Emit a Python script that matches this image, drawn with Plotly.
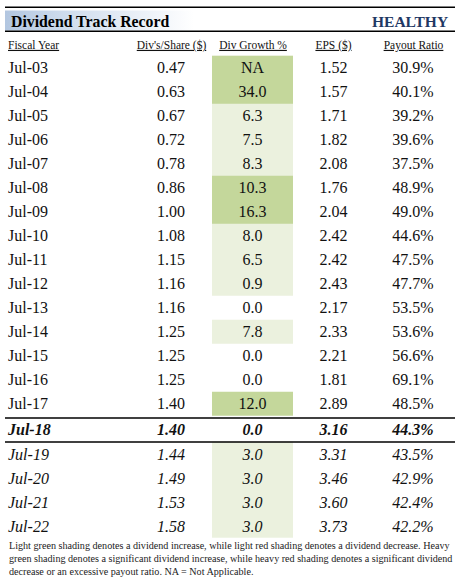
import plotly.graph_objects as go

# ---------------- data ----------------
fiscal_years = ["Jul-03", "Jul-04", "Jul-05", "Jul-06", "Jul-07", "Jul-08", "Jul-09",
                "Jul-10", "Jul-11", "Jul-12", "Jul-13", "Jul-14", "Jul-15", "Jul-16",
                "Jul-17", "Jul-18", "Jul-19", "Jul-20", "Jul-21", "Jul-22"]
div_per_share = ["0.47", "0.63", "0.67", "0.72", "0.78", "0.86", "1.00", "1.08", "1.15",
                 "1.16", "1.16", "1.25", "1.25", "1.25", "1.40", "1.40", "1.44", "1.49",
                 "1.53", "1.58"]
div_growth = ["NA", "34.0", "6.3", "7.5", "8.3", "10.3", "16.3", "8.0", "6.5", "0.9",
              "0.0", "7.8", "0.0", "0.0", "12.0", "0.0", "3.0", "3.0", "3.0", "3.0"]
eps = ["1.52", "1.57", "1.71", "1.82", "2.08", "1.76", "2.04", "2.42", "2.42", "2.43",
       "2.17", "2.33", "2.21", "1.81", "2.89", "3.16", "3.31", "3.46", "3.60", "3.73"]
payout_ratio = ["30.9%", "40.1%", "39.2%", "39.6%", "37.5%", "48.9%", "49.0%", "44.6%",
                "47.5%", "47.7%", "53.5%", "53.6%", "56.6%", "69.1%", "48.5%", "44.3%",
                "43.5%", "42.9%", "42.4%", "42.2%"]
# growth shading: 2 = heavy green, 1 = light green, 0 = none
growth_shading = [2, 2, 1, 1, 1, 2, 2, 1, 1, 1, 0, 1, 0, 0, 2, 0, 1, 1, 1, 1]
row_style = ["hist"] * 15 + ["current"] + ["forecast"] * 4
headers = ["Fiscal Year", "Div's/Share ($)", "Div Growth %", "EPS ($)", "Payout Ratio"]
title_left = "Dividend Track Record"
title_right = "HEALTHY"
footnote = ("Light green shading denotes a dividend increase, while light red shading denotes a dividend decrease. Heavy<br>"
            "green shading denotes a significant dividend increase, while heavy red shading denotes a significant dividend<br>"
            "decrease or an excessive payout ratio. NA = Not Applicable.")

# ---------------- layout geometry ----------------
W, H = 461, 583
FONT = "Liberation Serif, Times New Roman, serif"
TXT = "#111111"
ROW_H = 24.0
TOP0 = 55.7


def row_top(i):
    if i < 15:
        return TOP0 + ROW_H * i
    if i == 15:
        return 418.0
    return 442.0 + ROW_H * (i - 16)


row_centers = [row_top(i) + ROW_H / 2 + 0.8 for i in range(len(fiscal_years))]
row_centers = [c + (1.2 if i >= 16 else 0) for i, c in enumerate(row_centers)]


def styled(vals):
    out = []
    for v, s in zip(vals, row_style):
        if s == "current":
            out.append("<b><i>" + v + "</i></b>")
        elif s == "forecast":
            out.append("<i>" + v + "</i>")
        else:
            out.append(v)
    return out


fig = go.Figure()

# title bar with gradient
fig.add_trace(go.Scatter(
    x=[5, 455, 455, 5, 5], y=[10.5, 10.5, 30.5, 30.5, 10.5],
    mode="lines", line=dict(width=0), fill="toself",
    fillgradient=dict(type="horizontal",
                      colorscale=[[0, "#B2C6E0"], [0.12, "#CCDAEC"], [0.42, "#FFFFFF"], [1, "#FFFFFF"]]),
    hoverinfo="skip", showlegend=False))

# growth shading cells (21 edges for 20 rows)
y_edges = [TOP0 + ROW_H * i for i in range(16)] + [442.0 + ROW_H * k for k in range(0, 5)]
fig.add_trace(go.Heatmap(
    x=[212, 293], y=y_edges,
    z=[[v] for v in growth_shading],
    zmin=0, zmax=2,
    colorscale=[[0, "#FFFFFF"], [0.333, "#FFFFFF"], [0.333, "#EBF1DE"], [0.667, "#EBF1DE"],
                [0.667, "#C4D79B"], [1, "#C4D79B"]],
    showscale=False, hoverinfo="skip"))

# columns of text
cols = [
    (fiscal_years, 8, "middle right"),
    (div_per_share, 185, "middle left"),
    (div_growth, 252.5, "middle center"),
    (eps, 333.5, "middle center"),
    (payout_ratio, 413, "middle center"),
]
for vals, x, pos in cols:
    fig.add_trace(go.Scatter(
        x=[x] * len(vals), y=row_centers, mode="text", text=styled(vals),
        textposition=pos, textfont=dict(family=FONT, size=16, color=TXT),
        hoverinfo="skip", showlegend=False, cliponaxis=False))

# headers
header_x = [8, 171.5, 253, 333.5, 413.5]
header_pos = ["middle right", "middle center", "middle center", "middle center", "middle center"]
for h, x, pos in zip(headers, header_x, header_pos):
    fig.add_trace(go.Scatter(
        x=[x], y=[46], mode="text", text=[h], textposition=pos,
        textfont=dict(family=FONT, size=11.5, color=TXT, lineposition="under"),
        hoverinfo="skip", showlegend=False, cliponaxis=False))

# rules
for y, w in [(7.3, 1.6), (31.2, 1.6), (418.0, 1.5), (442.0, 1.5)]:
    fig.add_shape(type="line", x0=5, x1=455, y0=y, y1=y, xref="x", yref="y",
                  line=dict(color="#000000", width=w))

fig.add_annotation(x=9, y=21.5, xref="x", yref="y", text="<b>" + title_left + "</b>",
                   showarrow=False, xanchor="left", yanchor="middle",
                   font=dict(family=FONT, size=15.8, color="#000000"))
fig.add_annotation(x=450, y=21.5, xref="x", yref="y", text="<b>" + title_right + "</b>",
                   showarrow=False, xanchor="right", yanchor="middle",
                   font=dict(family=FONT, size=15.5, color="#1F3864"))
fig.add_annotation(x=7, y=538, xref="x", yref="y", text=footnote,
                   showarrow=False, xanchor="left", yanchor="top", align="left",
                   font=dict(family=FONT, size=10.15, color="#222222"))

fig.update_layout(
    width=W, height=H, margin=dict(l=0, r=0, t=0, b=0),
    paper_bgcolor="white", plot_bgcolor="white", showlegend=False,
    xaxis=dict(range=[0, W], visible=False, fixedrange=True),
    yaxis=dict(range=[H, 0], visible=False, fixedrange=True),
)

fig.write_html(
    "out.html",
    config={"displayModeBar": False, "staticPlot": True},
    post_script="document.body.style.margin='0';document.body.style.overflow='hidden';",
)
